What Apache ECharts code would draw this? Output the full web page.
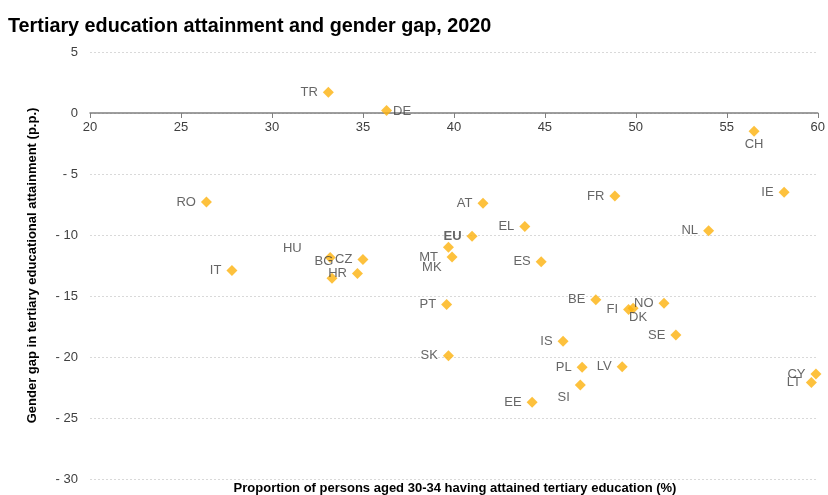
<!DOCTYPE html>
<html>
<head>
<meta charset="utf-8">
<script src="https://cdn.jsdelivr.net/npm/echarts@6/dist/echarts.min.js"></script>
<style>html,body{margin:0;padding:0;background:#fff}#c{width:828px;height:495px}</style>
</head>
<body>
<div id="c"></div>
<script>
const countries = ['TR','DE','RO','CH','AT','FR','IE','EL','EU','NL','MT','MK','HU','BG','CZ','HR','IT','ES','PT','SK','BE','NO','FI','DK','SE','IS','PL','LV','SI','EE','CY','LT'];
const attainment = [33.1,36.3,26.4,56.5,41.6,48.85,58.15,43.9,41.0,54.0,39.7,39.9,33.2,33.3,35.0,34.7,27.8,44.8,39.6,39.7,47.8,51.55,49.6,49.85,52.2,46.0,47.05,49.25,46.95,44.3,59.9,59.65];
const genderGap = [1.7,0.2,-7.3,-1.5,-7.4,-6.8,-6.5,-9.3,-10.1,-9.65,-11.0,-11.8,-11.85,-13.55,-12.0,-13.15,-12.9,-12.2,-15.7,-19.9,-15.3,-15.6,-16.1,-16.0,-18.2,-18.7,-20.85,-20.8,-22.3,-23.7,-21.4,-22.1];
const xTicks = [20,25,30,35,40,45,50,55,60];
const yTicks = [5,0,-5,-10,-15,-20,-25,-30];

// label placement (style, kept separate from data)
const labelPos = {DE: 'right', CH: 'bottom', DK: 'bottom', BG: 'top'};
const labelShift = {
  DE: [-4, 1], CH: [0, -4], DK: [5, -8], SI: [0, 12],
  MT: [0, 10], MK: [0, 10], HU: [-18, -9], BG: [-8, 0]
};

const FONT = '"Liberation Sans", Arial, sans-serif';
const data = countries.map((c, i) => {
  const item = {name: c, value: [attainment[i], genderGap[i]], label: {position: labelPos[c] || 'left'}};
  if (c === 'EU') item.label.fontWeight = 'bold';
  return item;
});

const gridTop = 52, gridBottom = 16, H = 495;
const plotH = H - gridTop - gridBottom;
const yMin = yTicks[yTicks.length - 1], yMax = yTicks[0];
const zeroShift = -plotH * (0 - yMin) / (yMax - yMin);

const chart = echarts.init(document.getElementById('c'), null, {renderer: 'canvas'});
chart.setOption({
  animation: false,
  backgroundColor: '#fff',
  title: {
    text: 'Tertiary education attainment and gender gap, 2020',
    left: 3, top: 12,
    textStyle: {fontFamily: FONT, fontSize: 19.8, fontWeight: 'bold', color: '#000'}
  },
  graphic: [{
    type: 'text', x: 455, y: 488,
    style: {text: 'Proportion of persons aged 30-34 having attained tertiary education (%)', font: 'bold 13px ' + FONT, fill: '#000', align: 'center', verticalAlign: 'middle'}
  }],
  grid: {left: 90, right: 9, top: gridTop, bottom: gridBottom, containLabel: false},
  xAxis: {
    type: 'value', min: xTicks[0], max: xTicks[xTicks.length - 1], interval: 5,
    position: 'bottom', offset: zeroShift,
    axisLine: {onZero: false, lineStyle: {color: '#7f7f7f', width: 1.5}},
    axisTick: {show: true, length: 5, lineStyle: {color: '#7f7f7f'}},
    axisLabel: {margin: 8, color: '#404040', fontFamily: FONT, fontSize: 13},
    splitLine: {show: false}
  },
  yAxis: {
    type: 'value', min: yMin, max: yMax, interval: 5,
    name: 'Gender gap in tertiary educational attainment (p.p.)',
    nameLocation: 'middle', nameGap: 51,
    nameTextStyle: {fontFamily: FONT, fontSize: 13, fontWeight: 'bold', color: '#000'},
    axisLine: {show: false}, axisTick: {show: false},
    axisLabel: {margin: 12, color: '#404040', fontFamily: FONT, fontSize: 13,
      formatter: v => v < 0 ? '- ' + Math.abs(v) : String(v)},
    splitLine: {show: true, lineStyle: {color: '#d9d9d9', type: [2, 2], width: 1}}
  },
  series: [{
    type: 'scatter', symbol: 'diamond', symbolSize: 11,
    itemStyle: {color: '#fdb10c'},
    label: {show: true, formatter: p => p.name, color: '#404040', fontFamily: FONT, fontSize: 13, distance: 5},
    labelLayout: p => {
      const s = labelShift[countries[p.dataIndex]];
      return s ? {dx: s[0], dy: s[1], hideOverlap: false} : {hideOverlap: false};
    },
    data: data
  }]
});
</script>
</body>
</html>
